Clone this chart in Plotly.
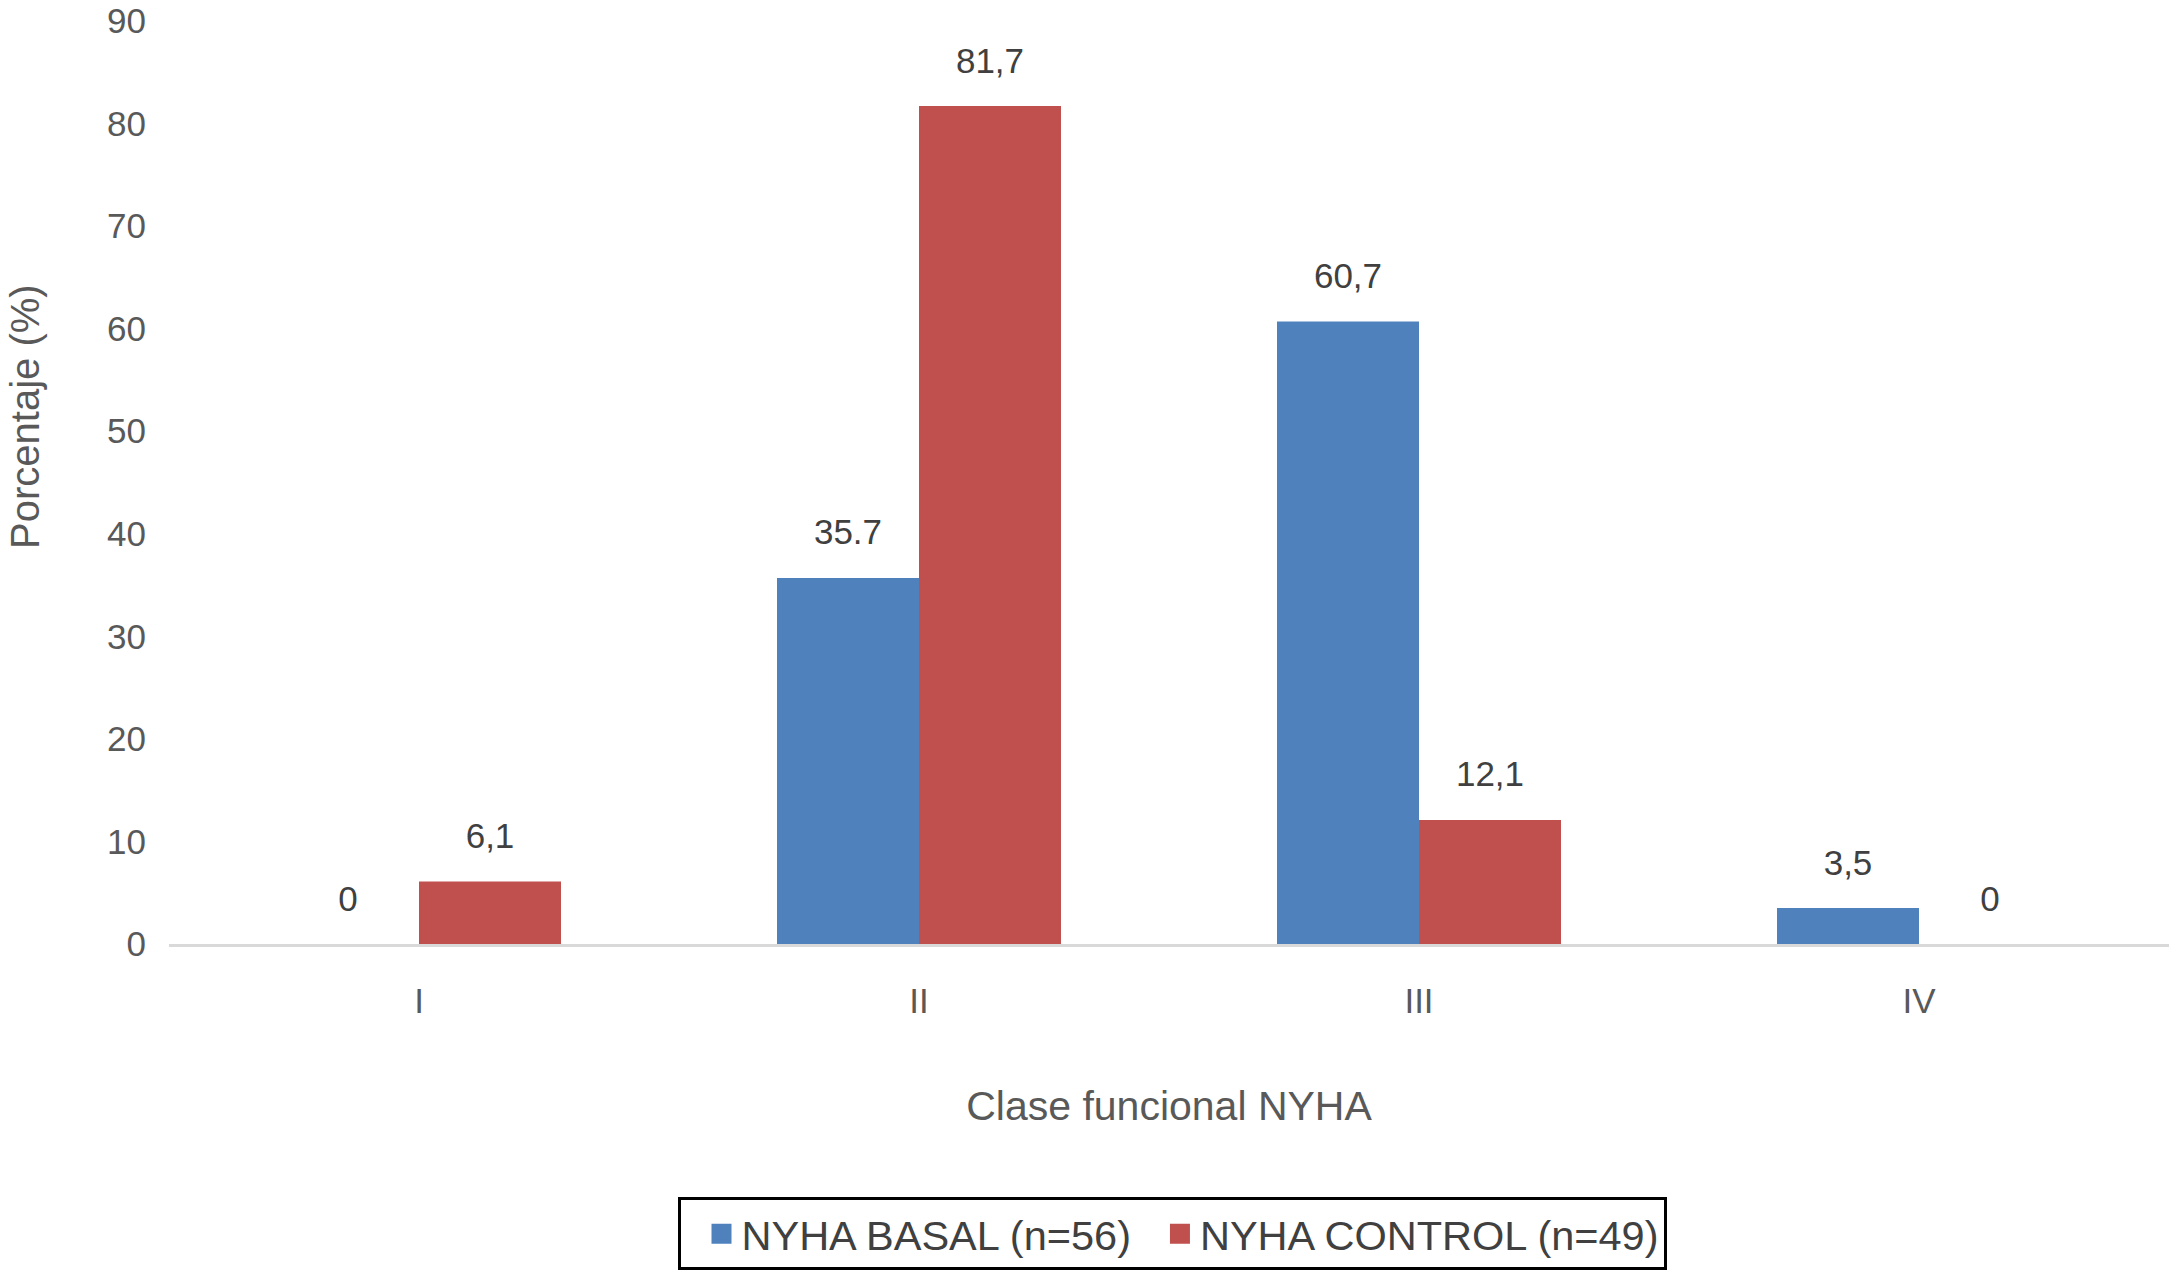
import plotly.graph_objects as go

categories = ["I", "II", "III", "IV"]
basal_name = "NYHA BASAL (n=56)"
control_name = "NYHA CONTROL (n=49)"
basal_values = [0, 35.7, 60.7, 3.5]
basal_labels = ["0", "35.7", "60,7", "3,5"]
control_values = [6.1, 81.7, 12.1, 0]
control_labels = ["6,1", "81,7", "12,1", "0"]
y_ticks = [0, 10, 20, 30, 40, 50, 60, 70, 80, 90]

BLUE = "#4F81BD"
RED = "#C0504D"
FONT = "Liberation Sans, Arial, sans-serif"

fig = go.Figure()
fig.add_trace(go.Bar(x=categories, y=basal_values, name=basal_name, showlegend=False,
                     marker=dict(color=BLUE, line=dict(width=0)), offsetgroup="a"))
fig.add_trace(go.Bar(x=categories, y=control_values, name=control_name, showlegend=False,
                     marker=dict(color=RED, line=dict(width=0)), offsetgroup="b"))
# value labels
for vals, labs, grp in [(basal_values, basal_labels, "a"), (control_values, control_labels, "b")]:
    fig.add_trace(go.Scatter(x=categories, y=vals, text=labs, mode="markers+text",
                             textposition="top center", marker=dict(size=38, opacity=0),
                             textfont=dict(size=35, color="#404040", family=FONT),
                             offsetgroup=grp, showlegend=False, hoverinfo="skip"))
# legend entries with large square symbols
for nm, col, grp in [(basal_name, BLUE, "g1"), (control_name, RED, "g2")]:
    fig.add_trace(go.Scatter(x=[None], y=[None], mode="markers", name=nm, legendgroup=grp,
                             marker=dict(symbol="square", size=16, color=col,
                                         line=dict(color=col, width=4))))

fig.update_layout(
    width=2169, height=1275,
    margin=dict(l=169, r=0, t=21, b=331, autoexpand=False),
    paper_bgcolor="white", plot_bgcolor="white",
    barmode="group", bargap=0.432, bargroupgap=0,
    scattermode="group", scattergap=0.432,
    font=dict(family=FONT, color="#595959", size=35),
    showlegend=True,
    legend=dict(orientation="h", x=0.5015, xanchor="center", y=-0.314, yanchor="middle",
                bordercolor="black", borderwidth=3, bgcolor="white",
                font=dict(size=41.5, color="#404040", family=FONT),
                itemsizing="trace", traceorder="grouped", tracegroupgap=22,
                indentation=24),
    annotations=[dict(text="Porcentaje (%)", xref="paper", yref="paper",
                      x=-0.072, y=0.571, xanchor="center", yanchor="middle",
                      textangle=-90, showarrow=False,
                      font=dict(size=40, color="#595959", family=FONT))],
)
fig.update_xaxes(showline=True, linecolor="#D9D9D9", linewidth=3, showgrid=False,
                 ticks="", ticklabelstandoff=24, tickfont=dict(size=35, color="#595959"),
                 automargin=False,
                 title=dict(text="Clase funcional NYHA", standoff=73,
                            font=dict(size=41, color="#595959")))
fig.update_yaxes(range=[0, 90], tickvals=y_ticks, showgrid=False, zeroline=False,
                 showline=False, ticks="", ticklabelstandoff=22, ticklabeloverflow="allow",
                 automargin=False, tickfont=dict(size=35, color="#595959"))

fig.write_html("out.html", config={"displayModeBar": False},
               post_script="document.body.style.margin='0px';document.body.style.overflow='hidden';")
